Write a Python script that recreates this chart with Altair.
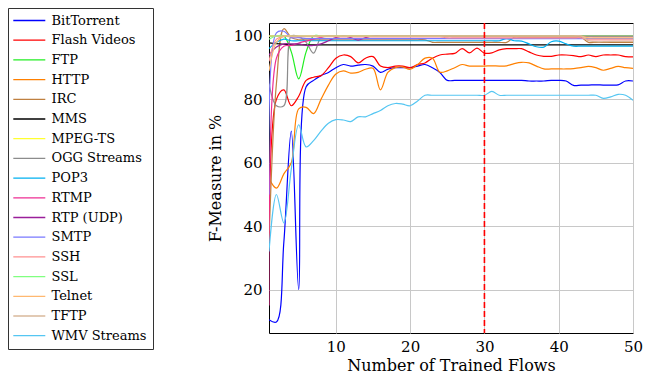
import altair as alt
import pandas as pd

flows = list(range(1, 51))
vline_x = [30]

series_names = ["BitTorrent", "Flash Videos", "FTP", "HTTP", "IRC", "MMS", "MPEG-TS",
                "OGG Streams", "POP3", "RTMP", "RTP (UDP)", "SMTP", "SSH", "SSL",
                "Telnet", "TFTP", "WMV Streams"]
colors = ["#0000ff", "#ff0000", "#22ee22", "#ff8000", "#bf8040", "#000000", "#ffff30",
          "#8c8c8c", "#00b0f0", "#ee2e93", "#9a1f9a", "#7878ff", "#ff9090", "#80ff80",
          "#ffb870", "#d9b99b", "#55c6f2"]

bittorrent = [10.5, 9.8, 35, 70, 20, 84, 86, 87.5, 88.5, 90,
              91, 90.5, 90.8, 91, 90.5, 88.5, 89.5, 90, 90, 90,
              90.5, 91, 90, 88.5, 86, 86, 86, 86, 86, 86,
              86, 86, 86, 86, 86, 85.8, 85.8, 85.8, 86, 86,
              85.8, 84.4, 84.5, 84.5, 84.6, 84.5, 84.5, 84.6, 85.8, 85.8]
flash = [35, 80, 83, 78, 81, 86, 87, 87.5, 90, 93,
         94, 93.5, 91.5, 93, 93.5, 90.5, 90, 90.5, 90.5, 90,
         91, 91.5, 93, 94, 94.3, 94.5, 96, 94.7, 96.2, 94.6,
         94.7, 95.6, 96, 96, 96, 95, 94, 93.6, 93.6, 94,
         94, 93.8, 93.5, 94, 93.5, 94, 94, 94, 93.5, 93.4]
ftp = [100, 100, 100, 95, 86.5, 95] + [100] * 44
http = [55, 52, 56.5, 60, 77, 77.5, 75.5, 80, 84.5, 88,
        89, 88.3, 88.5, 89.5, 89.8, 83, 88.5, 90, 90.2, 89.5,
        91, 93, 93, 88.6, 89, 90, 91, 90.5, 90.5, 90.5,
        90.6, 90.5, 90.6, 91.3, 91.7, 91.5, 90.5, 89.6, 89.6, 89.6,
        89.6, 89.7, 90, 90.4, 90, 89.2, 89.8, 90.4, 90, 89.8]
irc = [35, 85, 102.3, 99.5, 98.8] + [98.8] * 17 + [98] * 11 + [99.6] * 10 + [98] * 7
mms = [97.8, 97.6, 97.4] + [97.2] * 47
mpegts = [100] * 50
ogg = [85, 78, 78, 100, 99.8, 98, 94.6, 99.5] + [99.9] * 42
pop3 = [96, 98, 99] + [98.5] * 29 + [99.2, 98.5, 98.4, 97.5, 96.6, 96.5, 98.2, 98.4, 97.5] + [96.8] * 9
rtmp = [15, 93, 96.8, 97, 97.8, 98.4, 99, 99.6, 100] + [99.8] * 41
rtp = [94, 96.5, 97.5, 97.5, 97.5, 97, 97, 97.5, 98.5, 99.5, 100, 99.5, 98.7, 99.5] + [100] * 36
smtp = [50, 101, 101.5, 99.5, 99.5] + [99.2] * 45
ssh = [92, 99] + [99.8] * 22 + [99.4] * 19 + [98.8] * 7
ssl = [99] + [100] * 49
telnet = [89, 98] + [100] * 41 + [99.4] * 7
tftp = [100] * 43 + [98.5, 98.2, 98.2, 98.3, 98.3, 98.3, 98.3]
wmv = [32, 50, 41, 58, 72, 65, 67, 70, 72.5, 73.6,
       73.5, 73, 74.5, 74.5, 75.5, 76.5, 78, 78.7, 78.5, 78,
       79.5, 81.3, 81.3, 81.3, 81.3, 81.3, 81.3, 81.3, 81.3, 81.3,
       82.5, 81.3, 81.3, 81.3, 81.3, 81.3, 81.3, 81.3, 81.3, 81.3,
       81.3, 81.3, 81.3, 81.3, 81.3, 80.3, 80.8, 81.6, 81.3, 79.7]

all_values = [bittorrent, flash, ftp, http, irc, mms, mpegts, ogg, pop3, rtmp,
              rtp, smtp, ssh, ssl, telnet, tftp, wmv]

rows = []
for i, (name, vals) in enumerate(zip(series_names, all_values)):
    assert len(vals) == len(flows), name
    for x, v in zip(flows, vals):
        rows.append({"flows": x, "fm": v, "series": name, "k": i})
df = pd.DataFrame(rows)

font = "DejaVu Serif"

lines = alt.Chart(df).mark_line(interpolate="catmull-rom", strokeWidth=1.2, clip=True).encode(
    x=alt.X("flows:Q",
            scale=alt.Scale(domain=[1, 50], nice=False, zero=False),
            axis=alt.Axis(values=[10, 20, 30, 40, 50], title="Number of Trained Flows",
                          labelPadding=6, labelFlush=False, titleY=37,
                          titleBaseline="alphabetic")),
    y=alt.Y("fm:Q",
            scale=alt.Scale(domain=[6.3, 104.1], nice=False, zero=False),
            axis=alt.Axis(values=[20, 40, 60, 80, 100], title="F-Measure in %",
                          labelPadding=7, labelFlush=False, titleX=-54,
                          titleBaseline="middle")),
    color=alt.Color("series:N", sort=series_names,
                    scale=alt.Scale(domain=series_names, range=colors),
                    legend=alt.Legend(orient="none", legendX=-261, legendY=-15, title=None,
                                      symbolType="M-4,0H4", symbolSize=64,
                                      symbolStrokeWidth=1.3, symbolOffset=8.8,
                                      labelFont=font, labelFontSize=13, labelColor="black",
                                      labelOffset=15.7, rowPadding=5.7, padding=6,
                                      strokeColor="#333333", fillColor="white")),
    order=alt.Order("k:Q"),
)

vline = alt.Chart(pd.DataFrame({"flows": vline_x})).mark_rule(
    color="#ff0000", strokeDash=[6, 3], strokeWidth=1.6
).encode(x="flows:Q")

chart = alt.layer(lines, vline).properties(
    width=364, height=310,
    autosize=alt.AutoSizeParams(type="none"),
    padding={"left": 261, "top": 15, "right": 10, "bottom": 42},
).configure_view(
    stroke="black", strokeWidth=1
).configure_axis(
    grid=True, gridColor="#c8c8c8", gridWidth=1, domain=False, ticks=False,
    labelFont=font, labelFontSize=15, labelColor="black",
    titleFont=font, titleFontSize=16, titleFontWeight="normal", titleColor="black",
)

chart.save("out.html", embed_options={"renderer": "svg", "actions": False})
